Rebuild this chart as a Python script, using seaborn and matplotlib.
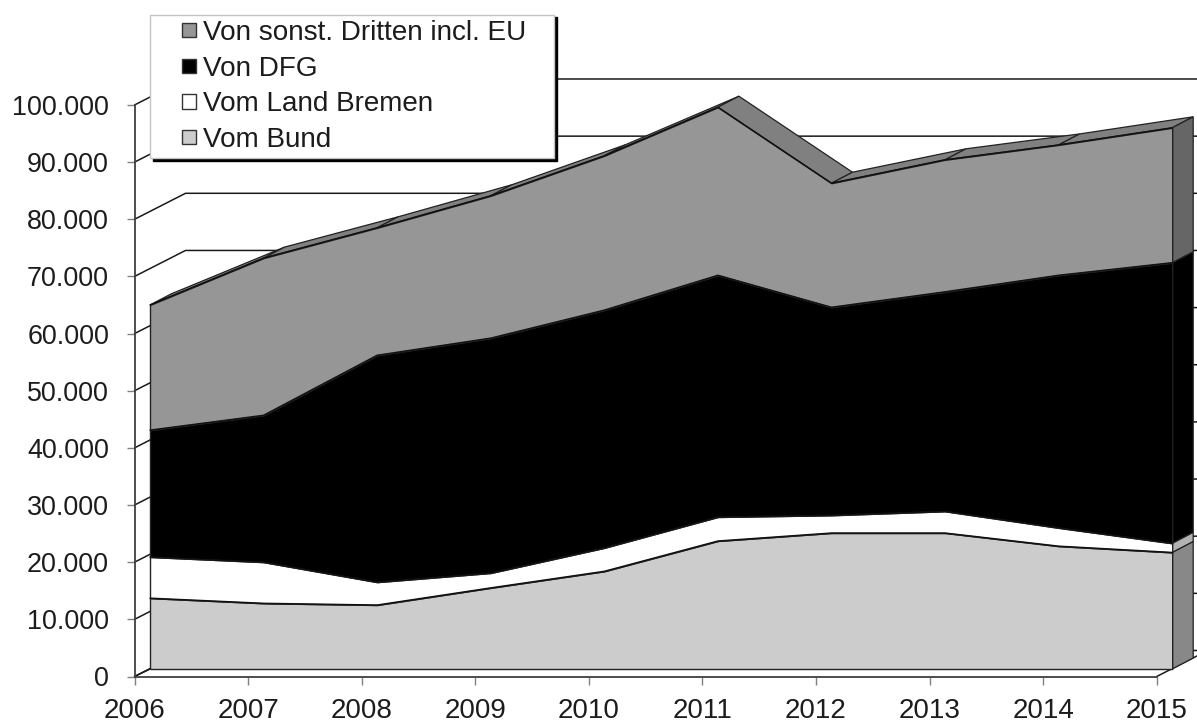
import matplotlib
matplotlib.use("Agg")
import matplotlib.pyplot as plt
from matplotlib.legend_handler import HandlerPatch
from matplotlib.patches import Patch, Rectangle
from matplotlib.transforms import Affine2D, IdentityTransform
import numpy as np
import pandas as pd
import seaborn as sns

years = [2006, 2007, 2008, 2009, 2010, 2011, 2012, 2013, 2014, 2015]
bund = [12400, 11500, 11200, 14200, 17100, 22400, 23800, 23800, 21500, 20400]
land_bremen = [7200, 7200, 4000, 2600, 4100, 4200, 3100, 3800, 3200, 1600]
dfg = [22200, 25700, 39700, 41100, 41600, 42300, 36400, 38400, 44200, 49100]
dritte = [21900, 27500, 22300, 24900, 27000, 29400, 21700, 23100, 22800, 23600]

series_names = ["Vom Bund", "Vom Land Bremen", "Von DFG", "Von sonst. Dritten incl. EU"]
series_values = [bund, land_bremen, dfg, dritte]
front_colors = ["#cccccc", "#ffffff", "#000000", "#969696"]
side_colors = ["#888888", "#b2b2b2", "#000000", "#666666"]
top_color = "#808080"
y_ticks = [0, 10000, 20000, 30000, 40000, 50000, 60000, 70000, 80000, 90000, 100000]
y_tick_labels = ["0", "10.000", "20.000", "30.000", "40.000", "50.000",
                 "60.000", "70.000", "80.000", "90.000", "100.000"]

W, H = 1197, 722
sns.set_theme(style="white")
plt.rcParams["font.family"] = ["Liberation Sans", "DejaVu Sans"]
TEXT = "#1c1c1c"
LINE = "#1a1a1a"

fig = plt.figure(figsize=(W / 100, H / 100), dpi=100, facecolor="white")
L, R, T, B = 134.5, 1156.7, 105.0, 676.5
ax = fig.add_axes([L / W, 1 - B / H, (R - L) / W, (B - T) / H])
ax.set_xlim(years[0], years[-1])
ax.set_ylim(0, 100000)
ax.patch.set_alpha(0)

px_x = (years[-1] - years[0]) / (R - L)
px_y = 100000 / (B - T)
# depth offsets in pixels: series front face, series back face, back wall
FRONT = (15.5, 7.5)
BACK = (36.5, 18.5)
WALL = (51.0, 26.0)


def shift(offset):
    return ax.transData + Affine2D().translate(*offset)


# back wall gridlines and their diagonal run along the side wall
for v in y_ticks:
    ax.plot([years[0], years[0] + WALL[0] * px_x, years[-1] + 1],
            [v, v + WALL[1] * px_y, v + WALL[1] * px_y],
            color=LINE, lw=1.1, clip_on=False, zorder=1)

x = np.array(years, dtype=float)
tops = np.cumsum(series_values, axis=0)
lows = np.vstack([np.zeros(len(years)), tops[:-1]])
dx = (BACK[0] - FRONT[0]) * px_x
dy = (BACK[1] - FRONT[1]) * px_y
front = shift(FRONT)

# floor lines
ax.plot([years[0], years[0] + FRONT[0] * px_x], [0, FRONT[1] * px_y],
        color=LINE, lw=1.1, clip_on=False, zorder=2)
ax.plot([years[-1], years[-1] + (WALL[0]) * px_x], [0, WALL[1] * px_y],
        color=LINE, lw=1.1, clip_on=False, zorder=2)

# top face of the uppermost series
for i in range(len(years) - 1):
    ax.fill([x[i], x[i + 1], x[i + 1] + dx, x[i] + dx],
            [tops[-1][i], tops[-1][i + 1], tops[-1][i + 1] + dy, tops[-1][i] + dy],
            facecolor=top_color, edgecolor="#222222", lw=0.9,
            transform=front, clip_on=False, zorder=3)

# right side faces
for low, top, col in zip(lows, tops, side_colors):
    ax.fill([x[-1], x[-1], x[-1] + dx, x[-1] + dx],
            [low[-1], top[-1], top[-1] + dy, low[-1] + dy],
            facecolor=col, edgecolor="#222222", lw=0.9,
            transform=front, clip_on=False, zorder=3)

# front faces
ax.stackplot(years, *series_values, colors=front_colors, edgecolor="#222222",
             linewidth=1.0, transform=front, clip_on=False, zorder=4)

long = pd.DataFrame({
    "Jahr": np.tile(years, len(series_names)),
    "Summe": tops.ravel(),
    "Quelle": np.repeat(series_names, len(years)),
})
sns.lineplot(data=long, x="Jahr", y="Summe", hue="Quelle", estimator=None,
             palette={n: "#111111" for n in series_names}, legend=False, lw=1.0,
             transform=front, clip_on=False, zorder=5, ax=ax)
ax.set_xlim(years[0], years[-1])
ax.set_ylim(0, 100000)
ax.set_xlabel("")
ax.set_ylabel("")

# axes
for side in ("top", "right"):
    ax.spines[side].set_visible(False)
for side in ("left", "bottom"):
    ax.spines[side].set_color("#404040")
    ax.spines[side].set_linewidth(1.3)
    ax.spines[side].set_zorder(6)
ax.set_xticks(years)
ax.set_xticklabels([str(y) for y in years])
ax.set_yticks(y_ticks)
ax.set_yticklabels(y_tick_labels)
ax.tick_params(axis="x", bottom=True, length=5.8, width=1.0, color="#808080",
               pad=9.5, labelsize=20, labelcolor=TEXT)
ax.tick_params(axis="y", left=True, length=5.8, width=1.0, color="#808080",
               pad=12.5, labelsize=19.35, labelcolor=TEXT)


# legend, with its swatches set to the right of a wide handle area
def swatch(legend, orig_handle, xdescent, ydescent, width, height, fontsize):
    s = 10.2
    return Rectangle((width - s - xdescent, (height - s) / 2 - ydescent), s, s)


handles = [Patch(facecolor=c, edgecolor="#333333", lw=1.0)
           for c in front_colors[::-1]]
leg = ax.legend(handles, series_names[::-1],
                loc="upper left", bbox_to_anchor=(150, H - 14.5, 404, 0),
                bbox_transform=IdentityTransform(), mode="expand",
                borderaxespad=0, borderpad=0.19, labelspacing=0.35,
                handlelength=1.47, handletextpad=0.24, fontsize=20.1,
                labelcolor=TEXT, fancybox=False, framealpha=1,
                edgecolor="#c4c4c4",
                shadow={"facecolor": "black", "edgecolor": "black", "alpha": 1},
                handler_map={Patch: HandlerPatch(patch_func=swatch)})
leg.set_zorder(10)

fig.savefig("out.png", dpi=100)
